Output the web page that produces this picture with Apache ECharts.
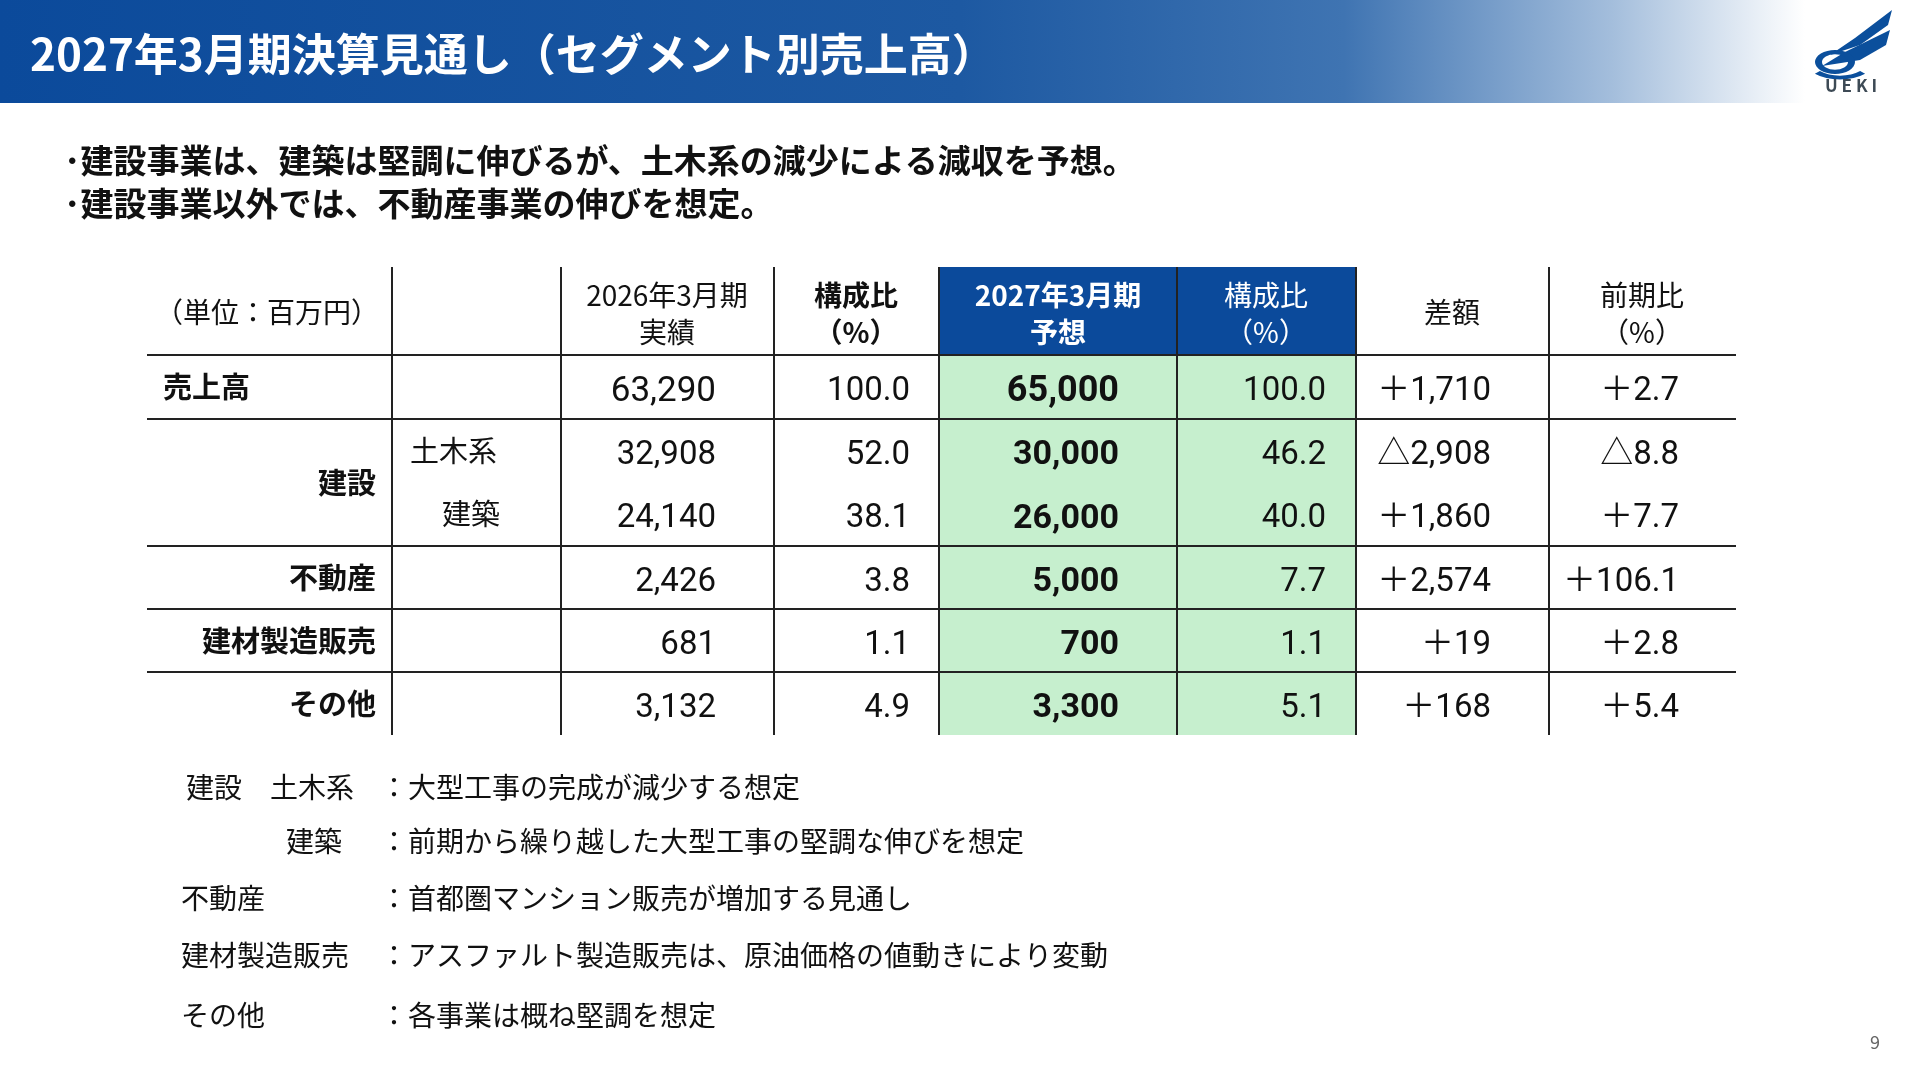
<!DOCTYPE html>
<html><head><meta charset="utf-8">
<script src="https://cdn.jsdelivr.net/npm/echarts@6/dist/echarts.min.js"></script>
<style>html,body{margin:0;padding:0;background:#fff}#c{width:1920px;height:1080px}</style>
</head><body><div id="c"></div>
<script>
const title = '2027年3月期決算見通し（セグメント別売上高）';
const bullets = ['･建設事業は、建築は堅調に伸びるが、土木系の減少による減収を予想。', '･建設事業以外では、不動産事業の伸びを想定。'];
const rowLabels = ['売上高', '', '', '不動産', '建材製造販売', 'その他'];
const subLabels = ['', '土木系', '建築', '', '', ''];
const v2026 = ['63,290', '32,908', '24,140', '2,426', '681', '3,132'];
const r2026 = ['100.0', '52.0', '38.1', '3.8', '1.1', '4.9'];
const v2027 = ['65,000', '30,000', '26,000', '5,000', '700', '3,300'];
const r2027 = ['100.0', '46.2', '40.0', '7.7', '1.1', '5.1'];
const diff = ['＋1,710', '△2,908', '＋1,860', '＋2,574', '＋19', '＋168'];
const yoy = ['＋2.7', '△8.8', '＋7.7', '＋106.1', '＋2.8', '＋5.4'];
const notesL = ['建設　土木系', '建築', '不動産', '建材製造販売', 'その他'];
const notesR = ['：大型工事の完成が減少する想定', '：前期から繰り越した大型工事の堅調な伸びを想定', '：首都圏マンション販売が増加する見通し', '：アスファルト製造販売は、原油価格の値動きにより変動', '：各事業は概ね堅調を想定'];

const JP = '"Noto Sans CJK JP", sans-serif';
const NUM = '"Liberation Sans Narrow", "Roboto", "Noto Sans CJK JP", sans-serif';
const colX = [147, 392, 561, 774, 939, 1177, 1356, 1549, 1736];
const rowY = [355, 419, 482, 546, 609, 672, 735];
const els = [];
function T(x, y, s, o) {
  els.push({type:'text', x, y, style:Object.assign({text:s, fill:'#111', font:'30px '+JP, textAlign:'left', textVerticalAlign:'middle'}, o||{})});
}
els.push({type:'rect', shape:{x:0,y:0,width:1920,height:103}, style:{fill:new echarts.graphic.LinearGradient(0,0,1,0,[{offset:0,color:'#0b4a9b'},{offset:0.5,color:'#1d59a2'},{offset:0.7,color:'#3f74b2'},{offset:0.84,color:'#a4bedc'},{offset:0.94,color:'#ffffff'},{offset:1,color:'#ffffff'}])}});
T(30, 54, title, {fill:'#fff', font:'bold 44px '+JP});
const logoC='#0b4f9c';
els.push({type:'polygon', shape:{points:[[1892,10],[1888,25],[1860,45],[1830,55],[1855,38]]}, style:{fill:logoC}});
els.push({type:'polygon', shape:{points:[[1890,30],[1886,45],[1860,60],[1822,66],[1845,52]]}, style:{fill:logoC}});
els.push({type:'ring', shape:{cx:1835,cy:62,r:20,r0:13}, scaleY:0.6, originY:62, style:{fill:logoC}});
els.push({type:'arc', shape:{cx:1840,cy:60,r:32,startAngle:Math.PI*0.75,endAngle:Math.PI*0.25,clockwise:false}, style:{stroke:logoC,lineWidth:7,fill:'none'}, scaleY:0.55, originY:60});
T(1851, 86, 'U E K I', {fill:'#3d4a55', font:'bold 17px '+JP, textAlign:'center'});
bullets.forEach((b,i)=>T(64, 160+i*43, b, {font:'bold 33px '+JP}));
els.push({type:'rect', shape:{x:colX[4],y:267,width:colX[6]-colX[4],height:rowY[0]-267}, style:{fill:'#0b4a9b'}});
els.push({type:'rect', shape:{x:colX[4],y:rowY[0],width:colX[6]-colX[4],height:rowY[6]-rowY[0]}, style:{fill:'#c6efce'}});
[1,2,3,4,5,6,7].forEach(i=>els.push({type:'line', shape:{x1:colX[i],y1:267,x2:colX[i],y2:735}, style:{stroke:'#222', lineWidth:2}}));
[0,1,3,4,5].forEach(i=>els.push({type:'line', shape:{x1:colX[0],y1:rowY[i],x2:colX[8],y2:rowY[i]}, style:{stroke:'#222', lineWidth:2}}));
const h1=312, ha=295, hb=332;
T(267, h1, '（単位：百万円）', {textAlign:'center', font:'28px '+JP});
T(667, ha, '2026年3月期', {textAlign:'center', font:'28px '+JP});
T(667, hb, '実績', {textAlign:'center', font:'28px '+JP});
T(856, ha, '構成比', {textAlign:'center', font:'bold 28px '+JP});
T(856, hb, '（%）', {textAlign:'center', font:'bold 28px '+JP});
T(1058, ha, '2027年3月期', {textAlign:'center', fill:'#fff', font:'bold 28px '+JP});
T(1058, hb, '予想', {textAlign:'center', fill:'#fff', font:'bold 28px '+JP});
T(1266, ha, '構成比', {textAlign:'center', fill:'#fff', font:'28px '+JP});
T(1266, hb, '（%）', {textAlign:'center', fill:'#fff', font:'28px '+JP});
T(1452, h1, '差額', {textAlign:'center', font:'28px '+JP});
T(1642, ha, '前期比', {textAlign:'center', font:'28px '+JP});
T(1642, hb, '（%）', {textAlign:'center', font:'28px '+JP});
rowLabels.forEach((s,i)=>{
  const y=(rowY[i]+rowY[i+1])/2;
  const yn=y+5;
  if(i===0) T(163, y, s, {font:'bold 29px '+JP});
  else if(s) T(376, y, s, {textAlign:'right', font:'bold 29px '+JP});
  if(subLabels[i]) T(i===1?410:442, y, subLabels[i], {font:'29px '+JP});
  T(716, yn, v2026[i], {textAlign:'right', font:(i===0?'35px ':'33px ')+NUM});
  T(910, yn, r2026[i], {textAlign:'right', font:'33px '+NUM});
  T(1119, yn, v2027[i], {textAlign:'right', font:(i===0?'bold 36px ':'bold 34px ')+NUM});
  T(1326, yn, r2027[i], {textAlign:'right', font:'33px '+NUM});
  T(1491, yn, diff[i], {textAlign:'right', font:'33px '+NUM});
  T(1679, yn, yoy[i], {textAlign:'right', font:'33px '+NUM});
});
T(376, (rowY[1]+rowY[3])/2, '建設', {textAlign:'right', font:'bold 29px '+JP});
const ny=[787, 841, 898, 955, 1015];
notesL.forEach((s,i)=>{
  T(i===1?286:(i===0?186:181), ny[i], s, {font:'28px '+JP});
  T(380, ny[i], notesR[i], {font:'28px '+JP});
});
T(1880, 1042, '9', {textAlign:'right', fill:'#666', font:'18px '+JP});
const chart = echarts.init(document.getElementById('c'));
chart.setOption({animation:false, graphic:{elements:els}});
</script></body></html>
